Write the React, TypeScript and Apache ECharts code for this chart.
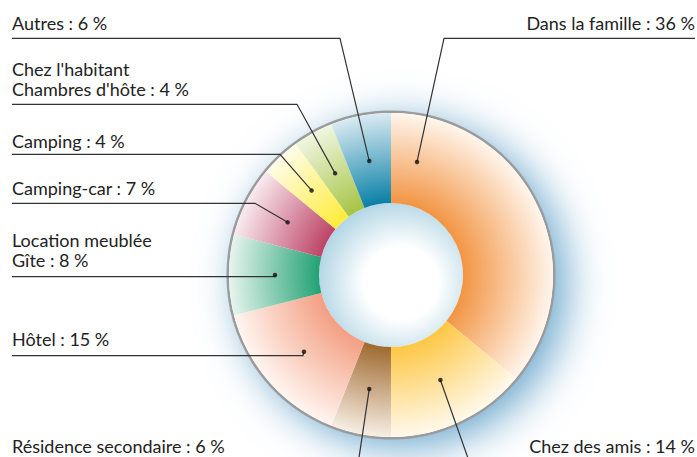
import React, { useEffect, useRef } from 'react';
import * as echarts from 'echarts';

// ---- data ----
const categories = [
  'Dans la famille',
  'Chez des amis',
  'Résidence secondaire',
  'Hôtel',
  'Location meublée\nGîte',
  'Camping-car',
  'Camping',
  "Chez l'habitant\nChambres d'hôte",
  'Autres',
];
const values = [36, 14, 6, 15, 8, 7, 4, 4, 6];
const innerColors = ['#f29544', '#fdc745', '#9f6a30', '#f39f83', '#22a274', '#bd4466', '#ffec3a', '#a6c445', '#0a80a6'];
const outerColors = ['#fff5ec', '#fff9ec', '#f7eee4', '#fff5f0', '#e6f4ec', '#f9eaef', '#fffce9', '#eff6e0', '#d9eaf2'];

// ---- layout ----
const CX = 391;
const CY = 275;
const R_IN = 72;
const R_OUT = 162;
const DOT_R = 116;
const anchorFrac = [0.1, 0.5, 0.5, 0.5, 0.5, 0.5, 0.5, 0.5, 0.5];
const labelSide = ['right', 'right', 'left', 'left', 'left', 'left', 'left', 'left', 'left'];
const labelBottom = [33, 456, 456, 349.5, 270.5, 198, 151, 99.5, 33.5];
const underlineY = [38.3, 461, 461, 355.7, 276.7, 203.3, 154.3, 104.3, 38.3];
const elbowX: (number | null)[] = [444, 469, 358.5, 303, null, 255, 280, 297, 340];
const LEFT_X = 12;
const RIGHT_X = 695;

const total = values.reduce((a, b) => a + b, 0);
const starts = values.map((_, i) => values.slice(0, i).reduce((a, b) => a + b, 0));
const anchorPos = values.map((v, i) => starts[i] + anchorFrac[i] * v);

function dotPixel(i: number): [number, number] {
  const deg = 90 - (anchorPos[i] / total) * 360;
  const rad = (deg * Math.PI) / 180;
  return [CX + DOT_R * Math.cos(rad), CY - DOT_R * Math.sin(rad)];
}

const FONT = "Lato, 'Liberation Sans', sans-serif";

export default function App() {
  const ref = useRef<HTMLDivElement>(null);
  useEffect(() => {
    document.body.style.margin = '0';
    if (!ref.current) return;
    const chart = echarts.init(ref.current, undefined, { renderer: 'svg' });
    const pieData = categories.map((name, i) => ({ name, value: values[i] }));
    const option: any = {
      animation: false,
      backgroundColor: '#ffffff',
      polar: { center: [CX, CY], radius: 163 },
      angleAxis: { type: 'value', min: 0, max: total, startAngle: 90, clockwise: true, show: false },
      radiusAxis: { type: 'value', min: 0, max: 163, show: false },
      graphic: [
        {
          type: 'circle',
          z: 0,
          shape: { cx: CX, cy: CY, r: 163 },
          style: {
            fill: '#ffffff',
            shadowBlur: 44,
            shadowColor: 'rgba(95,160,200,0.95)',
            shadowOffsetX: 12,
            shadowOffsetY: 9,
          },
          silent: true,
        },
        {
          type: 'circle',
          z: 1,
          shape: { cx: CX, cy: CY, r: 163.3 },
          style: { fill: 'none', stroke: '#9b9b9b', lineWidth: 2.5 },
          silent: true,
        },
        {
          type: 'circle',
          z: 1,
          shape: { cx: CX, cy: CY, r: R_IN },
          style: {
            fill: new echarts.graphic.RadialGradient(
              CX + 10,
              CY + 8,
              88,
              [
                { offset: 0, color: '#ffffff' },
                { offset: 0.42, color: '#ffffff' },
                { offset: 1, color: '#acd2e2' },
              ],
              true
            ),
          },
          silent: true,
        },
      ],
      series: [
        {
          // coloured sectors
          type: 'pie',
          z: 2,
          silent: true,
          center: [CX, CY],
          radius: [R_IN, R_OUT],
          startAngle: 90,
          clockwise: true,
          itemStyle: { borderWidth: 0 },
          label: { show: false },
          labelLine: { show: false },
          data: pieData.map((d, i) => ({
            ...d,
            itemStyle: {
              color: new echarts.graphic.RadialGradient(
                CX,
                CY,
                R_OUT,
                [
                  { offset: 0, color: innerColors[i] },
                  { offset: R_IN / R_OUT, color: innerColors[i] },
                  { offset: 1, color: outerColors[i] },
                ],
                true
              ),
            },
          })),
        },
        {
          // labels and leader lines, drawn above the sectors
          type: 'pie',
          z: 5,
          silent: true,
          center: [CX, CY],
          radius: [R_IN, R_OUT],
          startAngle: 90,
          clockwise: true,
          avoidLabelOverlap: false,
          itemStyle: { color: 'rgba(0,0,0,0)', borderWidth: 0 },
          label: {
            show: true,
            position: 'outside',
            formatter: '{b} : {c} %',
            fontFamily: FONT,
            fontSize: 18,
            lineHeight: 20.5,
            color: '#222222',
          },
          labelLine: {
            show: true,
            smooth: false,
            lineStyle: { color: '#333333', width: 1.2 },
          },
          labelLayout: (params: any) => {
            const i = params.dataIndex;
            const [dx, dy] = dotPixel(i);
            const ex = elbowX[i] == null ? dx : (elbowX[i] as number);
            const endX = labelSide[i] === 'left' ? LEFT_X : RIGHT_X;
            return {
              x: endX,
              y: labelBottom[i],
              align: labelSide[i],
              verticalAlign: 'bottom',
              labelLinePoints: [
                [dx, dy],
                [ex, underlineY[i]],
                [endX, underlineY[i]],
              ],
            };
          },
          data: pieData,
        },
        {
          type: 'scatter',
          coordinateSystem: 'polar',
          z: 10,
          silent: true,
          symbol: 'circle',
          symbolSize: 4.5,
          itemStyle: { color: '#111111' },
          data: anchorPos.map((p) => [DOT_R, p]),
        },
      ],
    };
    chart.setOption(option);
    return () => chart.dispose();
  }, []);
  return <div ref={ref} style={{ width: 697, height: 457 }} />;
}
